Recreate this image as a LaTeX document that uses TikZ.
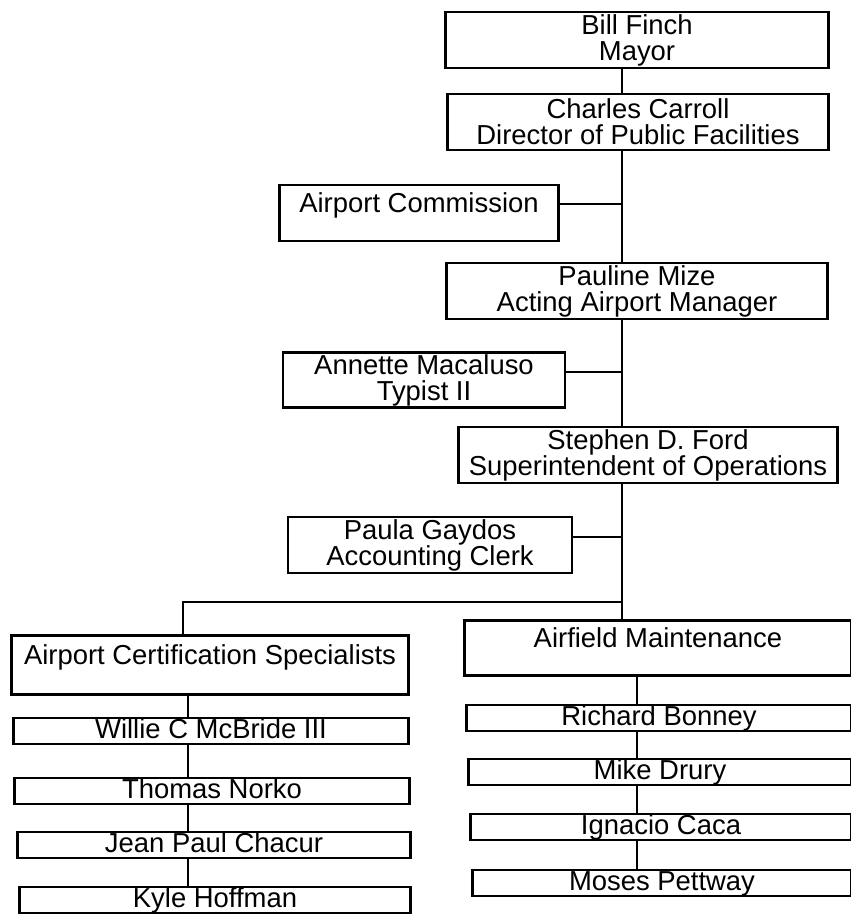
\documentclass[tikz,border=0pt]{standalone}
\usepackage{fontspec}
\setmainfont{Liberation Sans}
\usetikzlibrary{calc}

\begin{document}
\begin{tikzpicture}[x=0.01cm,y=-0.01cm,line width=0.8pt,
  post/.style={draw,line width=0.8pt,inner sep=0pt,align=center,minimum height=0.56cm,font=\fontsize{7.8}{7.4}\selectfont},
  slot/.style={post,minimum height=0.26cm,text height=5.6pt,text depth=1.4pt}]

\useasboundingbox (0,0) rectangle (850,921);

\coordinate (split) at (622,602);
\coordinate (leftdrop) at (183,602);
\coordinate (lchain) at (188,0);
\coordinate (rchain) at (637,0);

\node [post,minimum width=3.82cm] (mayor) at (637,40) {Bill Finch\\Mayor};
\node [post,minimum width=3.80cm] (charles) at (638,122) {Charles Carroll\\Director of Public Facilities};
\node [post,minimum width=2.79cm] (commission) at (419,213) {Airport Commission\\[-3.5pt]\strut};
\node [post,minimum width=3.80cm] (pauline) at (637,291) {Pauline Mize\\Acting Airport Manager};
\node [post,minimum width=2.82cm,minimum height=0.55cm] (annette) at (424,380) {Annette Macaluso\\Typist II};
\node [post,minimum width=3.79cm] (stephen) at (648,455) {Stephen D. Ford\\Superintendent of Operations};
\node [post,minimum width=2.84cm] (paula) at (430,545) {Paula Gaydos\\Accounting Clerk};

\node [post,minimum width=3.96cm,minimum height=0.59cm] (cert) at (210,665) {Airport Certification Specialists\\[-3.5pt]\strut};
\node [post,minimum width=3.86cm,minimum height=0.55cm] (airfield) at (658,648) {Airfield Maintenance\\[-3.5pt]\strut};

\node [slot,minimum width=3.95cm] (willie) at (211,731) {Willie C McBride III};
\node [slot,minimum width=3.95cm] (thomas) at (212,791) {Thomas Norko};
\node [slot,minimum width=3.93cm] (jean) at (214,845) {Jean Paul Chacur};
\node [slot,minimum width=3.90cm] (kyle) at (215,900) {Kyle Hoffman};

\node [slot,minimum width=3.84cm] (richard) at (659,718) {Richard Bonney};
\node [slot,minimum width=3.83cm] (mike) at (660,772) {Mike Drury};
\node [slot,minimum width=3.81cm] (ignacio) at (661,827) {Ignacio Caca};
\node [slot,minimum width=3.79cm] (moses) at (662,883) {Moses Pettway};

\draw (mayor.south -| split) -- (charles.north -| split);
\draw (charles.south -| split) -- (pauline.north -| split);
\draw (pauline.south -| split) -- (stephen.north -| split);
\draw (stephen.south -| split) -- (airfield.north -| split);

\draw ([yshift=.09cm]commission.east) coordinate (c1) -- (c1 -| split);
\draw ([yshift=.08cm]annette.east) coordinate (c2) -- (c2 -| split);
\draw ([yshift=.08cm]paula.east) coordinate (c3) -- (c3 -| split);

\draw (split) -- (leftdrop) -- (leftdrop |- cert.north);

\foreach \a/\b in {cert/willie,willie/thomas,thomas/jean,jean/kyle}
  \draw (\a.south -| lchain) -- (\b.north -| lchain);
\foreach \a/\b in {airfield/richard,richard/mike,mike/ignacio,ignacio/moses}
  \draw (\a.south -| rchain) -- (\b.north -| rchain);

\end{tikzpicture}
\end{document}
